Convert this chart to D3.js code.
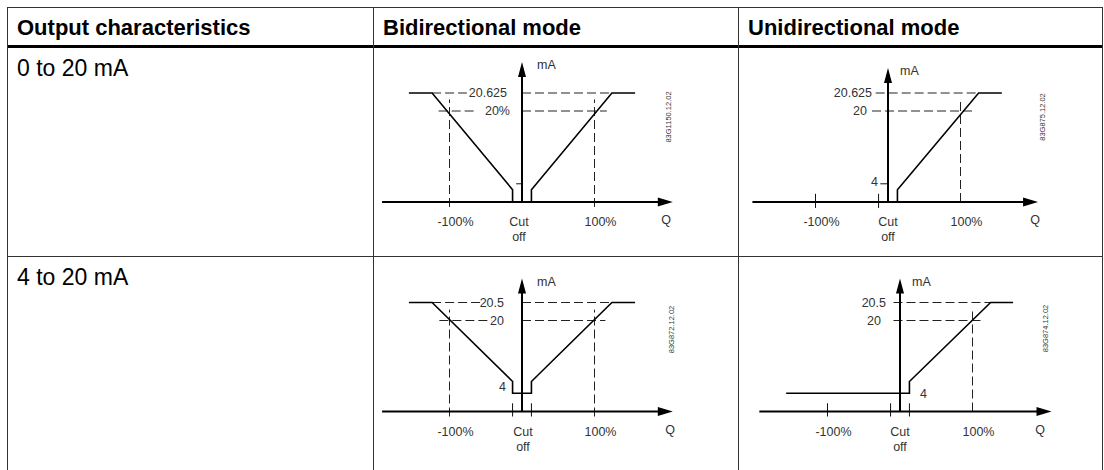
<!DOCTYPE html>
<html><head><meta charset="utf-8">
<script src="https://cdn.jsdelivr.net/npm/d3@7"></script>
<style>body{margin:0;background:#fff}svg{display:block}</style>
</head><body>
<svg id="c" width="1104" height="470"></svg>
<script>
// ---------- data ----------
const headers = ["Output characteristics", "Bidirectional mode", "Unidirectional mode"];
const rowLabels = ["0 to 20 mA", "4 to 20 mA"];
const diagramIds = ["83G1150.12.02", "83G875.12.02", "83G872.12.02", "83G874.12.02"];
const saturation = [20.625, 20.625, 20.5, 20.5];
const qLabels = ["-100%", "100%", "Cut", "off", "Q"];
const levelLabels1 = [["20.625", 20.625], ["20%", 20]];
const levelLabels2 = [["20.625", 20.625], ["20", 20], ["4", 4]];
const levelLabels3 = [["20.5", 20.5], ["20", 20], ["4", 4]];
const levelLabels4 = [["20.5", 20.5], ["20", 20], ["4", 4]];
// curves: [Q %, mA]
const curve1a = [[-156, 20.625], [-124, 20.625], [-13, 2.7], [-13, 0]];
const curve1b = [[13, 0], [13, 2.7], [124, 20.625], [156, 20.625]];
const curve2 = [[13, 0], [13, 2.7], [125, 20.625], [157, 20.625]];
const curve3 = [[-156, 20.5], [-124, 20.5], [-13, 6.6], [-13, 4], [13, 4], [13, 6.6], [124, 20.5], [156, 20.5]];
const curve4 = [[-157, 4], [13, 4], [13, 6.6], [125, 20.5], [156, 20.5]];
// dashed reference lines: [q1, mA1, q2, mA2]
const dashed1 = [[-124, 20.625, -76, 20.625], [0, 20.625, 124, 20.625], [-115, 20, -63, 20], [0, 20, 117, 20], [-100, -1.1, -100, 20.4], [100, -1.1, 100, 20.4]];
const dashed2 = [[-17, 20.625, 125, 20.625], [-22, 20, 116, 20], [100, 0, 100, 20.4]];
const dashed3 = [[-124, 20.5, -53, 20.5], [0, 20.5, 124, 20.5], [-114, 20, -42, 20], [0, 20, 115, 20], [-100, -1.1, -100, 20.3], [100, -1.1, 100, 20.3]];
const dashed4 = [[-9, 20.5, 125, 20.5], [-9, 20, 115, 20], [100, 0, 100, 20.3]];
// solid ticks: [q1, mA1, q2, mA2]
const ticks1 = [[-8, 4, 0, 4]];
const ticks2 = [[-100, -1.3, -100, 1.8], [-13, -1.3, -13, 1.8], [-10.6, 4, 0, 4]];
const ticks3 = [[-13, -1.1, -13, 1.8], [13, -1.1, 13, 1.8]];
const ticks4 = [[-100, -1.1, -100, 1.8], [-13, -1.1, -13, 1.8], [13, -1.1, 13, 1.8]];
const axisRange = [[-193, 208], [-187, 207], [-193, 208], [-194, 209]];

// ---------- layout ----------
const FONT = "'Liberation Sans', Arial, sans-serif";
const svg = d3.select("#c");
const tableX = [7, 373, 738, 1102];
const lineCol = "#333";

svg.append("line").attr("x1", tableX[0]).attr("x2", tableX[3]).attr("y1", 7.5).attr("y2", 7.5).attr("stroke", lineCol).attr("stroke-width", 1);
svg.append("rect").attr("x", tableX[0]).attr("y", 45).attr("width", tableX[3] - tableX[0]).attr("height", 3).attr("fill", "#000");
svg.append("line").attr("x1", tableX[0]).attr("x2", tableX[3]).attr("y1", 256.5).attr("y2", 256.5).attr("stroke", lineCol).attr("stroke-width", 1);
tableX.forEach(x => svg.append("line").attr("x1", x + 0.5).attr("x2", x + 0.5).attr("y1", 7).attr("y2", 470).attr("stroke", lineCol).attr("stroke-width", 1));

headers.forEach((h, i) => svg.append("text").attr("x", tableX[i] + 10).attr("y", 35)
  .attr("font-family", FONT).attr("font-size", 22).attr("font-weight", "bold").attr("fill", "#000").text(h));
rowLabels.forEach((t, i) => svg.append("text").attr("x", 17).attr("y", [76, 285][i])
  .attr("font-family", FONT).attr("font-size", 23).attr("fill", "#000").text(t));

const diagrams = [
  { ox: 522, oy: 202, top: 140, curves: [curve1a, curve1b], dashed: dashed1, ticks: ticks1, levels: levelLabels1,
    levelPos: [[-15, 4, "end"], [-12, 4, "end"]], mA: 15, q: 144, cut: -3, id: [146, -85] },
  { ox: 888, oy: 202, top: 134, curves: [curve2], dashed: dashed2, ticks: ticks2, levels: levelLabels2,
    levelPos: [[-16, 4, "end"], [-21, 4, "end"], [-10, 2, "end"]], mA: 12, q: 147, cut: 0, id: [154, -85] },
  { ox: 522, oy: 411.5, top: 133, curves: [curve3], dashed: dashed3, ticks: ticks3, levels: levelLabels3,
    levelPos: [[-18, 4, "end"], [-18, 4, "end"], [-16, -2.5, "end"]], mA: 15, q: 148, cut: 1, id: [149, -82] },
  { ox: 900, oy: 411.5, top: 133, curves: [curve4], dashed: dashed4, ticks: ticks4, levels: levelLabels4,
    levelPos: [[-14, 4, "end"], [-19, 4, "end"], [20, 4.5, "start"]], mA: 12, q: 140, cut: 0, id: [145, -83] }
];

diagrams.forEach((d, k) => {
  const g = svg.append("g");
  const xs = d3.scaleLinear().domain([-100, 100]).range([d.ox - 72.5, d.ox + 72.5]);
  const ys = d3.scaleLinear().domain([0, 20, saturation[k]]).range([d.oy, d.oy - 91, d.oy - 109]);
  const seg = (arr, stroke, w, dash) => arr.forEach(s => g.append("line")
    .attr("x1", xs(s[0])).attr("y1", ys(s[1])).attr("x2", xs(s[2])).attr("y2", ys(s[3]))
    .attr("stroke", stroke).attr("stroke-width", w).attr("stroke-dasharray", dash || null));

  seg(d.dashed, "#222", 1, "9,4");
  seg(d.ticks, "#111", 1);

  const [a0, a1] = axisRange[k];
  const tipX = xs(a1);
  g.append("line").attr("x1", xs(a0)).attr("x2", tipX - 8).attr("y1", d.oy).attr("y2", d.oy).attr("stroke", "#000").attr("stroke-width", 2);
  g.append("path").attr("d", `M${tipX},${d.oy}L${tipX - 15},${d.oy - 4.5}L${tipX - 15},${d.oy + 4.5}Z`).attr("fill", "#000");
  const tipY = d.oy - d.top;
  g.append("line").attr("x1", xs(0)).attr("x2", xs(0)).attr("y1", d.oy).attr("y2", tipY + 8).attr("stroke", "#000").attr("stroke-width", 2);
  g.append("path").attr("d", `M${xs(0)},${tipY}L${xs(0) - 4},${tipY + 15}L${xs(0) + 4},${tipY + 15}Z`).attr("fill", "#000");

  const line = d3.line().x(p => xs(p[0])).y(p => ys(p[1]));
  d.curves.forEach(c => g.append("path").attr("d", line(c)).attr("fill", "none").attr("stroke", "#000").attr("stroke-width", 1.6).attr("stroke-linejoin", "miter"));

  const txt = (x, y, s, anchor, size) => g.append("text").attr("x", x).attr("y", y).attr("text-anchor", anchor)
    .attr("font-family", FONT).attr("font-size", size || 12.5).attr("fill", "#333").text(s);

  d.levels.forEach((l, i) => txt(xs(0) + d.levelPos[i][0], ys(l[1]) + d.levelPos[i][1], l[0], d.levelPos[i][2]));
  txt(xs(0) + d.mA, tipY + 7, "mA", "start");
  txt(xs(-100) + 6, d.oy + 24, qLabels[0], "middle");
  txt(xs(100) + 6, d.oy + 24, qLabels[1], "middle");
  txt(xs(0) + d.cut, d.oy + 24, qLabels[2], "middle");
  txt(xs(0) + d.cut, d.oy + 39, qLabels[3], "middle");
  txt(xs(0) + d.q, d.oy + 22, qLabels[4], "middle");
  g.append("text").attr("transform", `translate(${xs(0) + d.id[0] + 2.5},${d.oy + d.id[1]}) rotate(-90)`)
    .attr("text-anchor", "middle").attr("font-family", FONT).attr("font-size", 7.5).attr("fill", "#333").text(diagramIds[k]);
});
</script>
</body></html>
